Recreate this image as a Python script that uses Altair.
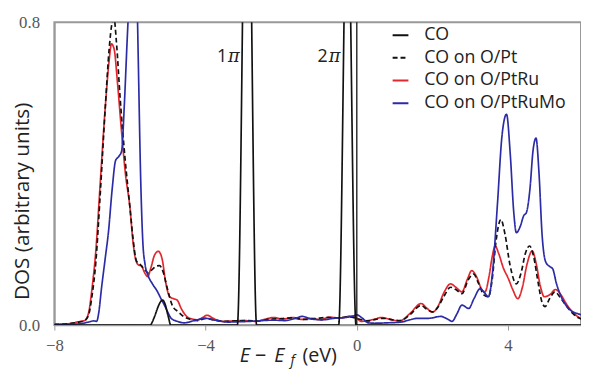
import altair as alt
import pandas as pd

# ---------------- data ----------------
series_names = ["CO", "CO on O/Pt", "CO on O/PtRu", "CO on O/PtRuMo"]
series_colors = ["#111111", "#111111", "#E0282E", "#2B2BA6"]
series_dashes = [[1, 0], [5, 3], [1, 0], [1, 0]]

co_x = [-8.0, -5.47, -5.36, -5.25, -5.19, -5.13, -5.07, -4.98, -4.92, -3.16, -2.90, -2.65,
        -0.48, -0.25, -0.02, 6.0]
co_y = [0.0, 0.0, 0.02, 0.05, 0.062, 0.066, 0.055, 0.02, 0.0, 0.0, 1.5, 0.0,
        0.0, 1.2, 0.0, 0.0]

pt_x = [-8.0, -7.6, -7.35, -7.2, -7.1, -7.0, -6.9, -6.79, -6.65, -6.55, -6.47, -6.42, -6.36,
        -6.26, -6.13, -6.0, -5.92, -5.83, -5.74, -5.62, -5.52, -5.4, -5.3, -5.22, -5.12,
        -5.02, -4.87, -4.72, -4.57, -4.4, -4.2, -4.0, -3.8, -3.5, -3.2, -2.9, -2.6, -2.3,
        -2.0, -1.7, -1.4, -1.1, -0.8, -0.5, -0.2, 0.05, 0.3, 0.5, 0.7, 0.95, 1.15, 1.4,
        1.70, 1.85, 2.0, 2.15, 2.3, 2.48, 2.62, 2.78, 2.95, 3.09, 3.22, 3.36, 3.48, 3.58,
        3.68, 3.81, 3.92, 4.05, 4.22, 4.35, 4.46, 4.57, 4.68, 4.8, 4.9, 4.98, 5.1, 5.24,
        5.4, 5.55, 5.7, 5.85, 6.0]
pt_y = [0.002, 0.004, 0.008, 0.012, 0.025, 0.08, 0.17, 0.34, 0.58, 0.73, 0.80, 0.81, 0.75,
        0.60, 0.44, 0.31, 0.23, 0.17, 0.161, 0.148, 0.138, 0.148, 0.156, 0.157, 0.14,
        0.10, 0.05, 0.035, 0.022, 0.015, 0.012, 0.018, 0.014, 0.01, 0.011, 0.012, 0.011,
        0.016, 0.017, 0.019, 0.015, 0.017, 0.02, 0.019, 0.022, 0.016, 0.011, 0.015, 0.018,
        0.014, 0.012, 0.027, 0.052, 0.042, 0.035, 0.048, 0.075, 0.10, 0.094, 0.083, 0.12,
        0.135, 0.11, 0.08, 0.075, 0.12, 0.22, 0.279, 0.24, 0.16, 0.109, 0.14, 0.19, 0.209,
        0.18, 0.11, 0.06, 0.049, 0.07, 0.088, 0.07, 0.05, 0.032, 0.02, 0.014]

ru_x = [-8.0, -7.6, -7.35, -7.2, -7.1, -7.0, -6.9, -6.79, -6.65, -6.55, -6.49, -6.42, -6.33,
        -6.23, -6.12, -6.0, -5.92, -5.84, -5.76, -5.70, -5.62, -5.53, -5.45, -5.35, -5.25,
        -5.15, -5.05, -4.95, -4.85, -4.75, -4.65, -4.5, -4.35, -4.2, -4.08, -3.96, -3.8,
        -3.55, -3.3, -3.0, -2.7, -2.45, -2.2, -1.96, -1.7, -1.45, -1.2, -0.95, -0.75,
        -0.45, -0.15, 0.0, 0.12, 0.3, 0.48, 0.65, 0.85, 1.13, 1.4, 1.70, 1.85, 2.0, 2.15,
        2.3, 2.48, 2.62, 2.78, 2.92, 3.04, 3.18, 3.3, 3.39, 3.5, 3.58, 3.66, 3.75, 3.88,
        4.0, 4.12, 4.26, 4.38, 4.5, 4.64, 4.75, 4.85, 4.96, 5.1, 5.26, 5.4, 5.55, 5.7,
        5.85, 6.0]
ru_y = [0.002, 0.004, 0.009, 0.012, 0.03, 0.10, 0.20, 0.37, 0.58, 0.70, 0.743, 0.73, 0.64,
        0.52, 0.40, 0.31, 0.22, 0.17, 0.158, 0.157, 0.14, 0.128, 0.15, 0.185, 0.195,
        0.175, 0.11, 0.075, 0.07, 0.066, 0.045, 0.023, 0.016, 0.014, 0.02, 0.026, 0.018,
        0.01, 0.011, 0.012, 0.01, 0.015, 0.02, 0.016, 0.02, 0.015, 0.018, 0.014, 0.021,
        0.019, 0.024, 0.018, 0.01, 0.012, 0.016, 0.02, 0.016, 0.011, 0.03, 0.057, 0.045,
        0.034, 0.05, 0.085, 0.109, 0.10, 0.088, 0.12, 0.144, 0.125, 0.095, 0.088, 0.13,
        0.18, 0.209, 0.19, 0.15, 0.125, 0.095, 0.07, 0.10, 0.16, 0.196, 0.16, 0.105,
        0.075, 0.08, 0.094, 0.08, 0.055, 0.035, 0.022, 0.015]

mo_x = [-8.0, -7.6, -7.3, -7.1, -6.96, -6.88, -6.83, -6.75, -6.65, -6.57, -6.47, -6.38,
        -6.3, -6.22, -6.15, -6.08, -6.03, -5.95, -5.88, -5.82, -5.78, -5.72, -5.66, -5.6,
        -5.52, -5.4, -5.27, -5.18, -5.09, -5.0, -4.91, -4.75, -4.56, -4.3, -4.0, -3.7,
        -3.4, -3.1, -2.8, -2.5, -2.2, -1.9, -1.65, -1.44, -1.2, -0.9, -0.6, -0.3, -0.1,
        0.0, 0.15, 0.3, 0.48, 0.8, 1.17, 1.4, 1.61, 1.9, 2.22, 2.4, 2.52, 2.65, 2.78, 2.96,
        3.1, 3.26, 3.38, 3.48, 3.6, 3.72, 3.84, 3.96, 4.06, 4.15, 4.22, 4.32, 4.42, 4.48,
        4.58, 4.66, 4.74, 4.82, 4.9, 5.0, 5.1, 5.18, 5.28, 5.39, 5.55, 5.7, 5.85, 6.0]
mo_y = [0.001, 0.002, 0.004, 0.008, 0.011, 0.01, 0.03, 0.10, 0.18, 0.245, 0.36, 0.435,
        0.445, 0.46, 0.58, 0.74, 0.85, 1.05, 1.05, 0.90, 0.70, 0.40, 0.22, 0.16, 0.131,
        0.108, 0.088, 0.07, 0.053, 0.034, 0.018, 0.01, 0.006, 0.012, 0.018, 0.012, 0.008,
        0.009, 0.01, 0.012, 0.013, 0.012, 0.017, 0.023, 0.016, 0.014, 0.018, 0.02, 0.024,
        0.027, 0.018, 0.006, 0.005, 0.006, 0.008, 0.014, 0.018, 0.018, 0.023, 0.016, 0.01,
        0.03, 0.053, 0.044, 0.07, 0.096, 0.085, 0.075, 0.15, 0.32, 0.50, 0.557, 0.45, 0.30,
        0.244, 0.26, 0.29, 0.296, 0.36, 0.46, 0.494, 0.40, 0.24, 0.166, 0.155, 0.149, 0.11,
        0.079, 0.05, 0.036, 0.03, 0.026]

fermi_level = [0.0]
x_ticks = [-8, -4, 0, 4]
y_ticks = [0.0, 0.8]
x_domain = [-8, 5.93]
y_domain = [0, 0.8]

ann_num = ["1", "2"]
ann_x = [-3.43, -0.77]
ann_y = [0.708, 0.708]

# ---------------- build table ----------------
rows = []
for name, xs, ys in [("CO on O/PtRu", ru_x, ru_y), ("CO on O/Pt", pt_x, pt_y),
                     ("CO on O/PtRuMo", mo_x, mo_y), ("CO", co_x, co_y)]:
    for i, (xv, yv) in enumerate(zip(xs, ys)):
        rows.append({"series": name, "E": xv, "DOS": yv, "i": i})
df = pd.DataFrame(rows)

x_scale = alt.Scale(domain=x_domain, nice=False, zero=False)
y_scale = alt.Scale(domain=y_domain, nice=False, zero=False)

legend_common = dict(
    orient="none", legendX=342, legendY=4, title=None,
    symbolType="stroke", symbolSize=256, symbolStrokeWidth=2,
    labelFont="Open Sans", labelFontSize=18, labelColor="#222222",
    labelOffset=15, rowPadding=5, padding=0,
)

lines = alt.Chart(df).mark_line(clip=True, strokeWidth=1.7, interpolate="monotone").encode(
    x=alt.X("E:Q", scale=x_scale,
            axis=alt.Axis(values=x_ticks, title=None, grid=False, format="d",
                          labelFlush=False, labelOverlap=False,
                          tickSize=5, tickColor="#999999", domainColor="#999999",
                          domainWidth=1.5, labelFont="Liberation Serif", labelFontSize=17,
                          labelColor="#555555", labelPadding=8)),
    y=alt.Y("DOS:Q", scale=y_scale,
            axis=alt.Axis(values=y_ticks, format=".1f", title="DOS (arbitrary units)",
                          grid=False, ticks=False, domainColor="#999999", domainWidth=1.5,
                          labelFlush=False, labelFont="Liberation Serif", labelFontSize=17,
                          labelColor="#555555", labelPadding=15,
                          titleFont="Open Sans", titleFontSize=21, titleFontWeight="normal",
                          titleColor="#222222", titleX=-32, titleY=181,
                          titleAlign="center", titleBaseline="middle", titleAngle=270)),
    color=alt.Color("series:N", scale=alt.Scale(domain=series_names, range=series_colors),
                    legend=alt.Legend(**legend_common)),
    strokeDash=alt.StrokeDash("series:N",
                              scale=alt.Scale(domain=series_names, range=series_dashes),
                              legend=alt.Legend(**legend_common)),
    order="i:Q",
)

fermi = alt.Chart(pd.DataFrame({"E": fermi_level})).mark_rule(
    color="#111111", strokeWidth=1.3).encode(x=alt.X("E:Q", scale=x_scale))

ann_df = pd.DataFrame({"n": ann_num, "E": ann_x, "DOS": ann_y})
ann_n = alt.Chart(ann_df).mark_text(
    font="Open Sans", fontSize=18, color="#222222", align="right"
).encode(x=alt.X("E:Q", scale=x_scale), y=alt.Y("DOS:Q", scale=y_scale), text="n:N")
ann_pi = alt.Chart(ann_df).mark_text(
    font="DejaVu Serif", fontSize=18, fontStyle="italic", color="#222222", align="left", dx=1
).encode(x=alt.X("E:Q", scale=x_scale), y=alt.Y("DOS:Q", scale=y_scale),
         text=alt.value("\u03c0"))

# x-axis title pieces: E − E_f (eV)
title_pieces = ["E", "\u2212", "E", "f", "(eV)"]
def piece(txt, px, py, size, style):
    return alt.Chart(pd.DataFrame({"t": [txt]})).mark_text(
        font="Open Sans", fontSize=size, fontStyle=style, color="#222222",
        align="left", baseline="alphabetic"
    ).encode(x=alt.value(px), y=alt.value(py), text="t:N")

t1 = piece(title_pieces[0], 188.0, 344, 20, "italic")
t2 = piece(title_pieces[1], 203.5, 344, 20, "normal")
t3 = piece(title_pieces[2], 223.0, 344, 20, "italic")
t4 = piece(title_pieces[3], 239.5, 347, 14, "italic")
t5 = piece(title_pieces[4], 251.5, 344, 20, "normal")

chart = alt.layer(lines, fermi, ann_n, ann_pi, t1, t2, t3, t4, t5).properties(
    width=534, height=307,
    autosize=alt.AutoSizeParams(type="none"),
    padding={"left": 47, "top": 12, "right": 0, "bottom": 44},
    background="white",
).configure_view(stroke="#999999", strokeWidth=2)

chart.save("out.html", embed_options={"renderer": "svg", "actions": False})
